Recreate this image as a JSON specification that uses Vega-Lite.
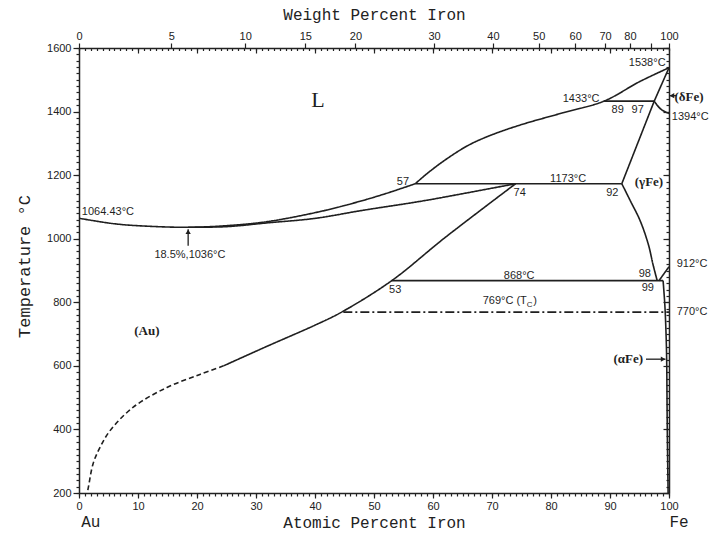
{
  "$schema": "https://vega.github.io/schema/vega-lite/v6.json",
  "width": 590,
  "height": 445,
  "autosize": {"type": "none"},
  "padding": {"left": 79, "top": 48, "right": 42, "bottom": 43},
  "background": "white",
  "config": {
    "view": {"stroke": null},
    "axis": {
      "grid": false,
      "domainColor": "#222222",
      "tickColor": "#222222",
      "labelColor": "#222222",
      "titleColor": "#222222",
      "labelFont": "Liberation Sans",
      "labelFontSize": 11,
      "titleFont": "Liberation Mono",
      "titleFontSize": 16,
      "titleFontWeight": "normal",
      "domainWidth": 1.5,
      "tickWidth": 1.2
    }
  },
  "datasets": {
    "curves": [
      {"id": "liqL", "k": 0, "a": 0, "t": 1064.43, "s": "solid"},
      {"id": "liqL", "k": 1, "a": 6, "t": 1047, "s": "solid"},
      {"id": "liqL", "k": 2, "a": 12, "t": 1039, "s": "solid"},
      {"id": "liqL", "k": 3, "a": 18.5, "t": 1036, "s": "solid"},
      {"id": "liqL", "k": 4, "a": 25, "t": 1041, "s": "solid"},
      {"id": "liqL", "k": 5, "a": 32, "t": 1054, "s": "solid"},
      {"id": "liqL", "k": 6, "a": 41, "t": 1086, "s": "solid"},
      {"id": "liqL", "k": 7, "a": 47.5, "t": 1117, "s": "solid"},
      {"id": "liqL", "k": 8, "a": 52, "t": 1142, "s": "solid"},
      {"id": "liqL", "k": 9, "a": 57, "t": 1173, "s": "solid"},

      {"id": "liqR", "k": 0, "a": 57, "t": 1173, "s": "solid"},
      {"id": "liqR", "k": 1, "a": 59, "t": 1205, "s": "solid"},
      {"id": "liqR", "k": 2, "a": 62, "t": 1247, "s": "solid"},
      {"id": "liqR", "k": 3, "a": 66, "t": 1294, "s": "solid"},
      {"id": "liqR", "k": 4, "a": 70, "t": 1327, "s": "solid"},
      {"id": "liqR", "k": 5, "a": 75, "t": 1359, "s": "solid"},
      {"id": "liqR", "k": 6, "a": 82, "t": 1396, "s": "solid"},
      {"id": "liqR", "k": 7, "a": 89, "t": 1433, "s": "solid"},
      {"id": "liqR", "k": 8, "a": 95, "t": 1494, "s": "solid"},
      {"id": "liqR", "k": 9, "a": 100, "t": 1538, "s": "solid"},

      {"id": "solAu", "k": 0, "a": 18.5, "t": 1036, "s": "solid"},
      {"id": "solAu", "k": 1, "a": 25, "t": 1038, "s": "solid"},
      {"id": "solAu", "k": 2, "a": 32, "t": 1050, "s": "solid"},
      {"id": "solAu", "k": 3, "a": 40, "t": 1064, "s": "solid"},
      {"id": "solAu", "k": 4, "a": 48, "t": 1089, "s": "solid"},
      {"id": "solAu", "k": 5, "a": 58, "t": 1118, "s": "solid"},
      {"id": "solAu", "k": 6, "a": 66, "t": 1145, "s": "solid"},
      {"id": "solAu", "k": 7, "a": 74, "t": 1173, "s": "solid"},

      {"id": "peri1173", "k": 0, "a": 57, "t": 1173, "s": "solid"},
      {"id": "peri1173", "k": 1, "a": 92, "t": 1173, "s": "solid"},

      {"id": "peri1433", "k": 0, "a": 89, "t": 1433, "s": "solid"},
      {"id": "peri1433", "k": 1, "a": 97.5, "t": 1433, "s": "solid"},

      {"id": "deltaSol", "k": 0, "a": 97.5, "t": 1433, "s": "solid"},
      {"id": "deltaSol", "k": 1, "a": 100, "t": 1538, "s": "solid"},

      {"id": "deltaSolvus", "k": 0, "a": 97.5, "t": 1433, "s": "solid"},
      {"id": "deltaSolvus", "k": 1, "a": 98, "t": 1420, "s": "solid"},
      {"id": "deltaSolvus", "k": 2, "a": 98.8, "t": 1405, "s": "solid"},
      {"id": "deltaSolvus", "k": 3, "a": 100, "t": 1394, "s": "solid"},

      {"id": "gammaLiq", "k": 0, "a": 97.5, "t": 1433, "s": "solid"},
      {"id": "gammaLiq", "k": 1, "a": 92, "t": 1173, "s": "solid"},

      {"id": "gammaSolvus", "k": 0, "a": 92, "t": 1173, "s": "solid"},
      {"id": "gammaSolvus", "k": 1, "a": 93.4, "t": 1121, "s": "solid"},
      {"id": "gammaSolvus", "k": 2, "a": 95.1, "t": 1057, "s": "solid"},
      {"id": "gammaSolvus", "k": 3, "a": 96.5, "t": 982, "s": "solid"},
      {"id": "gammaSolvus", "k": 4, "a": 97.3, "t": 918, "s": "solid"},
      {"id": "gammaSolvus", "k": 5, "a": 98, "t": 868, "s": "solid"},

      {"id": "eut868", "k": 0, "a": 53, "t": 868, "s": "solid"},
      {"id": "eut868", "k": 1, "a": 99, "t": 868, "s": "solid"},

      {"id": "g912", "k": 0, "a": 98.3, "t": 868, "s": "solid"},
      {"id": "g912", "k": 1, "a": 100, "t": 912, "s": "solid"},

      {"id": "alphaSolvus", "k": 0, "a": 99, "t": 868, "s": "solid"},
      {"id": "alphaSolvus", "k": 1, "a": 99.3, "t": 790, "s": "solid"},
      {"id": "alphaSolvus", "k": 2, "a": 99.5, "t": 700, "s": "solid"},
      {"id": "alphaSolvus", "k": 3, "a": 99.6, "t": 625, "s": "solid"},
      {"id": "alphaSolvus", "k": 4, "a": 99.7, "t": 415, "s": "solid"},
      {"id": "alphaSolvus", "k": 5, "a": 99.85, "t": 200, "s": "solid"},

      {"id": "auSolvus", "k": 0, "a": 74, "t": 1173, "s": "solid"},
      {"id": "auSolvus", "k": 1, "a": 62, "t": 1003, "s": "solid"},
      {"id": "auSolvus", "k": 2, "a": 53, "t": 868, "s": "solid"},
      {"id": "auSolvus", "k": 3, "a": 44.5, "t": 769, "s": "solid"},
      {"id": "auSolvus", "k": 4, "a": 40, "t": 728, "s": "solid"},
      {"id": "auSolvus", "k": 5, "a": 31.8, "t": 661, "s": "solid"},
      {"id": "auSolvus", "k": 6, "a": 24.5, "t": 600, "s": "solid"},

      {"id": "auSolvusEst", "k": 0, "a": 24.5, "t": 600, "s": "dashed"},
      {"id": "auSolvusEst", "k": 1, "a": 20.5, "t": 573, "s": "dashed"},
      {"id": "auSolvusEst", "k": 2, "a": 14.9, "t": 532, "s": "dashed"},
      {"id": "auSolvusEst", "k": 3, "a": 9.2, "t": 470, "s": "dashed"},
      {"id": "auSolvusEst", "k": 4, "a": 5.3, "t": 397, "s": "dashed"},
      {"id": "auSolvusEst", "k": 5, "a": 3.6, "t": 345, "s": "dashed"},
      {"id": "auSolvusEst", "k": 6, "a": 2.4, "t": 293, "s": "dashed"},
      {"id": "auSolvusEst", "k": 7, "a": 1.6, "t": 219, "s": "dashed"},
      {"id": "auSolvusEst", "k": 8, "a": 1.4, "t": 200, "s": "dashed"},

      {"id": "curie", "k": 0, "a": 44.8, "t": 769, "s": "dashdot"},
      {"id": "curie", "k": 1, "a": 100, "t": 769, "s": "dashdot"}
    ],
    "numLabels": [
      {"a": 96.3, "t": 1552, "text": "1538°C"},
      {"a": 85.1, "t": 1441, "text": "1433°C"},
      {"a": 91.3, "t": 1406, "text": "89"},
      {"a": 94.7, "t": 1406, "text": "97"},
      {"a": 103.6, "t": 1383, "text": "1394°C"},
      {"a": 82.9, "t": 1188, "text": "1173°C"},
      {"a": 54.9, "t": 1180, "text": "57"},
      {"a": 74.7, "t": 1145, "text": "74"},
      {"a": 90.4, "t": 1143, "text": "92"},
      {"a": 74.6, "t": 882, "text": "868°C"},
      {"a": 95.9, "t": 888, "text": "98"},
      {"a": 96.4, "t": 844, "text": "99"},
      {"a": 53.6, "t": 838, "text": "53"},
      {"a": 103.9, "t": 919, "text": "912°C"},
      {"a": 103.9, "t": 768, "text": "770°C"},
      {"a": 4.9, "t": 1084, "text": "1064.43°C"},
      {"a": 18.8, "t": 949, "text": "18.5%,1036°C"}
    ],
    "curieLabel": [
      {"a": 75.9, "t": 803, "text": "769°C (T"}
    ],
    "curieSub": [
      {"a": 75.9, "t": 792, "text": "C"}
    ],
    "curieClose": [
      {"a": 77.0, "t": 803, "text": ")"}
    ],
    "phaseLabels": [
      {"a": 103.4, "t": 1446, "text": "(δFe)"},
      {"a": 96.6, "t": 1177, "text": "(γFe)"},
      {"a": 11.5, "t": 711, "text": "(Au)"},
      {"a": 93.1, "t": 621, "text": "(αFe)"}
    ],
    "liquidLabel": [
      {"a": 40.5, "t": 1437, "text": "L"}
    ],
    "elements": [
      {"a": 2.0, "t": 109, "text": "Au"},
      {"a": 101.7, "t": 109, "text": "Fe"}
    ],
    "arrowShafts": [
      {"a": 18.5, "t": 978, "a2": 18.5, "t2": 1030},
      {"a": 96.1, "t": 621, "a2": 99.4, "t2": 621},
      {"a": 100.1, "t": 1450, "a2": 101.3, "t2": 1450}
    ],
    "arrowHeads": [
      {"a": 18.5, "t": 1022, "dir": "up"},
      {"a": 99.0, "t": 621, "dir": "right"},
      {"a": 100.5, "t": 1450, "dir": "left"}
    ]
  },
  "resolve": {"axis": {"x": "independent", "y": "independent"}},
  "layer": [
    {
      "data": {"name": "curves"},
      "mark": {"type": "line", "strokeWidth": 1.6, "color": "#1f1f1f", "interpolate": "catmull-rom"},
      "encoding": {
        "x": {
          "field": "a", "type": "quantitative",
          "scale": {"domain": [0, 100], "nice": false, "zero": false},
          "axis": {
            "orient": "bottom",
            "values": [0, 10, 20, 30, 40, 50, 60, 70, 80, 90, 100],
            "format": "d",
            "tickSize": 5,
            "labelPadding": 2,
            "labelFlush": false,
            "labelOverlap": false,
            "title": "Atomic Percent Iron",
            "titleY": 29,
            "titleBaseline": "middle"
          }
        },
        "y": {
          "field": "t", "type": "quantitative",
          "scale": {"domain": [200, 1600], "nice": false, "zero": false},
          "axis": {
            "orient": "left",
            "values": [200, 400, 600, 800, 1000, 1200, 1400, 1600],
            "format": "d",
            "tickSize": 6,
            "labelPadding": 2,
            "labelFlush": false,
            "labelOverlap": false,
            "title": "Temperature °C",
            "titleX": -55,
            "titleY": 218,
            "titleBaseline": "middle",
            "titleFontSize": 17
          }
        },
        "detail": {"field": "id"},
        "order": {"field": "k"},
        "strokeDash": {
          "field": "s", "type": "nominal",
          "scale": {"domain": ["solid", "dashed", "dashdot"], "range": [[1, 0], [5, 3], [9, 3, 2, 3]]},
          "legend": null
        }
      }
    },
    {
      "data": {"name": "curves"},
      "mark": {"type": "point", "opacity": 0},
      "encoding": {
        "x": {
          "field": "a", "type": "quantitative",
          "scale": {"domain": [0, 100], "nice": false, "zero": false},
          "axis": {
            "orient": "bottom",
            "values": [0,1,2,3,4,5,6,7,8,9,10,11,12,13,14,15,16,17,18,19,20,21,22,23,24,25,26,27,28,29,30,31,32,33,34,35,36,37,38,39,40,41,42,43,44,45,46,47,48,49,50,51,52,53,54,55,56,57,58,59,60,61,62,63,64,65,66,67,68,69,70,71,72,73,74,75,76,77,78,79,80,81,82,83,84,85,86,87,88,89,90,91,92,93,94,95,96,97,98,99,100],
            "labels": false, "domain": false, "tickSize": 3, "title": null
          }
        },
        "y": {
          "field": "t", "type": "quantitative",
          "scale": {"domain": [200, 1600], "nice": false, "zero": false},
          "axis": {
            "orient": "left",
            "values": [200,220,240,260,280,300,320,340,360,380,400,420,440,460,480,500,520,540,560,580,600,620,640,660,680,700,720,740,760,780,800,820,840,860,880,900,920,940,960,980,1000,1020,1040,1060,1080,1100,1120,1140,1160,1180,1200,1220,1240,1260,1280,1300,1320,1340,1360,1380,1400,1420,1440,1460,1480,1500,1520,1540,1560,1580,1600],
            "labels": false, "domain": false, "tickSize": 3, "title": null
          }
        }
      }
    },
    {
      "data": {"name": "curves"},
      "mark": {"type": "point", "opacity": 0},
      "encoding": {
        "x": {
          "field": "a", "type": "quantitative",
          "scale": {"domain": [0, 100], "nice": false, "zero": false},
          "axis": {
            "orient": "top",
            "values": [0, 15.66, 28.16, 38.36, 46.86, 60.19, 70.16, 77.91, 84.10, 89.17, 93.38, 96.95, 100],
            "labelExpr": "datum.value > 96 && datum.value < 98 ? '' : format(round(100 * datum.value * 55.845 / (datum.value * 55.845 + (100 - datum.value) * 196.97)), 'd')",
            "tickSize": 5,
            "labelPadding": 2,
            "labelFlush": false,
            "labelOverlap": false,
            "title": "Weight Percent Iron",
            "titleY": -34,
            "titleBaseline": "middle"
          }
        },
        "y": {
          "field": "t", "type": "quantitative",
          "scale": {"domain": [200, 1600], "nice": false, "zero": false},
          "axis": {
            "orient": "right",
            "values": [200, 400, 600, 800, 1000, 1200, 1400, 1600],
            "labels": false, "tickSize": -6, "title": null
          }
        }
      }
    },
    {
      "data": {"name": "curves"},
      "mark": {"type": "point", "opacity": 0},
      "encoding": {
        "x": {
          "field": "a", "type": "quantitative",
          "scale": {"domain": [0, 100], "nice": false, "zero": false},
          "axis": {
            "orient": "top",
            "values": [0,1,2,3,4,5,6,7,8,9,10,11,12,13,14,15,16,17,18,19,20,21,22,23,24,25,26,27,28,29,30,31,32,33,34,35,36,37,38,39,40,41,42,43,44,45,46,47,48,49,50,51,52,53,54,55,56,57,58,59,60,61,62,63,64,65,66,67,68,69,70,71,72,73,74,75,76,77,78,79,80,81,82,83,84,85,86,87,88,89,90,91,92,93,94,95,96,97,98,99,100],
            "labels": false, "domain": false, "tickSize": -2.5, "title": null
          }
        },
        "y": {
          "field": "t", "type": "quantitative",
          "scale": {"domain": [200, 1600], "nice": false, "zero": false},
          "axis": {
            "orient": "right",
            "values": [200,220,240,260,280,300,320,340,360,380,400,420,440,460,480,500,520,540,560,580,600,620,640,660,680,700,720,740,760,780,800,820,840,860,880,900,920,940,960,980,1000,1020,1040,1060,1080,1100,1120,1140,1160,1180,1200,1220,1240,1260,1280,1300,1320,1340,1360,1380,1400,1420,1440,1460,1480,1500,1520,1540,1560,1580,1600],
            "labels": false, "domain": false, "tickSize": -3, "title": null
          }
        }
      }
    },
    {
      "data": {"name": "curves"},
      "mark": {"type": "point", "opacity": 0},
      "encoding": {
        "x": {
          "field": "a", "type": "quantitative",
          "scale": {"domain": [0, 100], "nice": false, "zero": false},
          "axis": {
            "orient": "top",
            "values": [10, 20, 30, 40, 50, 60, 70, 80, 90],
            "labels": false, "domain": false, "tickSize": -5, "title": null
          }
        },
        "y": {
          "field": "t", "type": "quantitative",
          "scale": {"domain": [200, 1600], "nice": false, "zero": false},
          "axis": null
        }
      }
    },
    {
      "data": {"name": "arrowShafts"},
      "mark": {"type": "rule", "strokeWidth": 1.3, "color": "#1f1f1f"},
      "encoding": {
        "x": {"field": "a", "type": "quantitative", "scale": {"domain": [0, 100], "nice": false, "zero": false}, "axis": null},
        "y": {"field": "t", "type": "quantitative", "scale": {"domain": [200, 1600], "nice": false, "zero": false}, "axis": null},
        "x2": {"field": "a2"},
        "y2": {"field": "t2"}
      }
    },
    {
      "data": {"name": "arrowHeads"},
      "mark": {"type": "point", "filled": true, "size": 28, "color": "#1f1f1f", "opacity": 1},
      "encoding": {
        "x": {"field": "a", "type": "quantitative", "scale": {"domain": [0, 100], "nice": false, "zero": false}, "axis": null},
        "y": {"field": "t", "type": "quantitative", "scale": {"domain": [200, 1600], "nice": false, "zero": false}, "axis": null},
        "shape": {
          "field": "dir", "type": "nominal",
          "scale": {"domain": ["up", "right", "left"], "range": ["triangle-up", "triangle-right", "triangle-left"]},
          "legend": null
        }
      }
    },
    {
      "data": {"name": "numLabels"},
      "mark": {"type": "text", "font": "Liberation Sans", "fontSize": 11, "color": "#1f1f1f", "align": "center", "baseline": "middle"},
      "encoding": {
        "x": {"field": "a", "type": "quantitative", "scale": {"domain": [0, 100], "nice": false, "zero": false}, "axis": null},
        "y": {"field": "t", "type": "quantitative", "scale": {"domain": [200, 1600], "nice": false, "zero": false}, "axis": null},
        "text": {"field": "text"}
      }
    },
    {
      "data": {"name": "curieLabel"},
      "mark": {"type": "text", "font": "Liberation Sans", "fontSize": 11, "color": "#1f1f1f", "align": "right", "baseline": "middle"},
      "encoding": {
        "x": {"field": "a", "type": "quantitative", "scale": {"domain": [0, 100], "nice": false, "zero": false}, "axis": null},
        "y": {"field": "t", "type": "quantitative", "scale": {"domain": [200, 1600], "nice": false, "zero": false}, "axis": null},
        "text": {"field": "text"}
      }
    },
    {
      "data": {"name": "curieSub"},
      "mark": {"type": "text", "font": "Liberation Sans", "fontSize": 8, "color": "#1f1f1f", "align": "left", "baseline": "middle"},
      "encoding": {
        "x": {"field": "a", "type": "quantitative", "scale": {"domain": [0, 100], "nice": false, "zero": false}, "axis": null},
        "y": {"field": "t", "type": "quantitative", "scale": {"domain": [200, 1600], "nice": false, "zero": false}, "axis": null},
        "text": {"field": "text"}
      }
    },
    {
      "data": {"name": "curieClose"},
      "mark": {"type": "text", "font": "Liberation Sans", "fontSize": 11, "color": "#1f1f1f", "align": "left", "baseline": "middle"},
      "encoding": {
        "x": {"field": "a", "type": "quantitative", "scale": {"domain": [0, 100], "nice": false, "zero": false}, "axis": null},
        "y": {"field": "t", "type": "quantitative", "scale": {"domain": [200, 1600], "nice": false, "zero": false}, "axis": null},
        "text": {"field": "text"}
      }
    },
    {
      "data": {"name": "phaseLabels"},
      "mark": {"type": "text", "font": "Liberation Serif", "fontSize": 13, "fontWeight": "bold", "color": "#1f1f1f", "align": "center", "baseline": "middle"},
      "encoding": {
        "x": {"field": "a", "type": "quantitative", "scale": {"domain": [0, 100], "nice": false, "zero": false}, "axis": null},
        "y": {"field": "t", "type": "quantitative", "scale": {"domain": [200, 1600], "nice": false, "zero": false}, "axis": null},
        "text": {"field": "text"}
      }
    },
    {
      "data": {"name": "liquidLabel"},
      "mark": {"type": "text", "font": "Liberation Serif", "fontSize": 22, "color": "#1f1f1f", "align": "center", "baseline": "middle"},
      "encoding": {
        "x": {"field": "a", "type": "quantitative", "scale": {"domain": [0, 100], "nice": false, "zero": false}, "axis": null},
        "y": {"field": "t", "type": "quantitative", "scale": {"domain": [200, 1600], "nice": false, "zero": false}, "axis": null},
        "text": {"field": "text"}
      }
    },
    {
      "data": {"name": "elements"},
      "mark": {"type": "text", "font": "Liberation Mono", "fontSize": 16, "color": "#1f1f1f", "align": "center", "baseline": "middle"},
      "encoding": {
        "x": {"field": "a", "type": "quantitative", "scale": {"domain": [0, 100], "nice": false, "zero": false}, "axis": null},
        "y": {"field": "t", "type": "quantitative", "scale": {"domain": [200, 1600], "nice": false, "zero": false}, "axis": null},
        "text": {"field": "text"}
      }
    }
  ]
}
